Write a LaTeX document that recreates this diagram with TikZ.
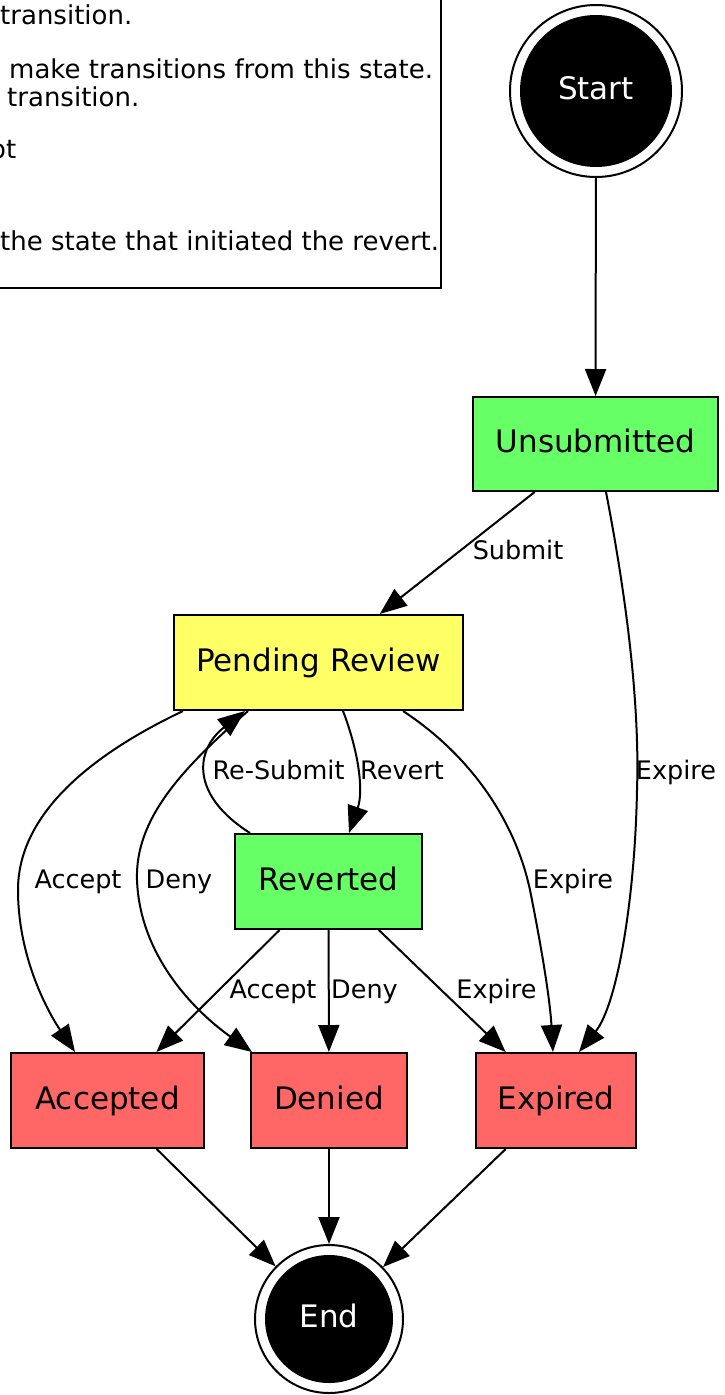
\documentclass[tikz,border=0pt]{standalone}
\usepackage{fontspec}
\setmainfont{DejaVu Sans}
\usetikzlibrary{arrows.meta,calc}
\definecolor{stgreen}{HTML}{66FF66}
\definecolor{styellow}{HTML}{FFFF66}
\definecolor{stred}{HTML}{FF6666}
\tikzset{
  statebox/.style={rectangle, draw=black, line width=2pt, inner sep=0pt,
    font=\fontsize{31}{37}\selectfont, text height=17pt, text depth=0pt},
  ring/.style={circle, draw=black, line width=2pt, inner sep=0pt},
  disk/.style={circle, fill=black, text=white, inner sep=0pt,
    font=\fontsize{31}{37}\selectfont, text height=17pt, text depth=0pt},
  conn/.style={line width=2pt, -{Triangle[length=27pt,width=21pt]}},
  elabel/.style={font=\fontsize{25.5}{30}\selectfont, inner sep=0pt, anchor=base},
  legtext/.style={font=\fontsize{26}{31}\selectfont, inner sep=0pt},
}
\begin{document}
\begin{tikzpicture}[x=1pt,y=-1pt]
\useasboundingbox (0,0) rectangle (725,1395);
\clip (0,0) rectangle (725,1395);
\fill[white] (0,0) rectangle (725,1395);

% legend box (partially visible)
\draw[line width=2pt] (-10,-10) rectangle (441,288);
\node[legtext, anchor=base west] (l1) at (0,24) {transition.};
\node[legtext, anchor=base west] (l2) at (9,78) {make transitions from this state.};
\node[legtext, anchor=base west] (l3) at (7,106) {transition.};
\node[legtext, anchor=base east] (l4) at (16.5,158) {ot};
\node[legtext, anchor=base west] (l5) at (0,250) {the state that initiated the revert.};

% start / end
\node[ring, minimum size=172pt] (startO) at (596,91) {};
\node[disk, minimum size=152pt] (start) at (596,91) {Start};
\node[ring, minimum size=148pt] (endO) at (329,1319) {};
\node[disk, minimum size=128pt] (end) at (329,1319) {End};

% states
\node[statebox, fill=stgreen, minimum width=245pt, minimum height=94pt] (unsub) at (595.5,444) {Unsubmitted};
\node[statebox, fill=styellow, minimum width=289pt, minimum height=95pt] (pending) at (318.5,662.5) {Pending Review};
\node[statebox, fill=stgreen, minimum width=187pt, minimum height=95pt] (reverted) at (328.5,881.5) {Reverted};
\node[statebox, fill=stred, minimum width=193pt, minimum height=95pt] (accepted) at (107.5,1100.5) {Accepted};
\node[statebox, fill=stred, minimum width=156pt, minimum height=95pt] (denied) at (329,1100.5) {Denied};
\node[statebox, fill=stred, minimum width=160pt, minimum height=95pt] (expired) at (556,1100.5) {Expired};

% connectors
\draw[conn] (startO) -- (unsub);
\draw[conn] (unsub) -- (pending);
\draw[conn] ([xshift=10.5pt]unsub.south) .. controls (625,590) and (640,700) .. (637,790)
   .. controls (635,900) and (617,1005) .. ([xshift=23pt]expired.north);
\draw[conn] ([xshift=24.5pt]pending.south) .. controls (358,750) and (364,790) .. ([xshift=20.5pt]reverted.north);
\draw[conn] ([xshift=-78.5pt]reverted.north) .. controls (190,795) and (195,750) .. ([xshift=-73.5pt]pending.south);
\draw[conn] ([xshift=-135.5pt]pending.south) .. controls (80,760) and (18,820) .. (18,890)
   .. controls (18,960) and (50,1015) .. ([xshift=-32.5pt]accepted.north);
\draw[conn] ([xshift=-70.5pt]pending.south) .. controls (180,770) and (135,820) .. (137,880)
   .. controls (140,960) and (200,1015) .. ([xshift=-77pt]denied.north);
\draw[conn] ([xshift=84.5pt]pending.south) .. controls (470,755) and (515,820) .. (530,890)
   .. controls (542,950) and (550,1000) .. ([xshift=-3pt]expired.north);
\draw[conn] (reverted) -- (accepted);
\draw[conn] (reverted) -- (denied);
\draw[conn] (reverted) -- (expired);
\draw[conn] (accepted) -- (endO);
\draw[conn] (denied) -- (endO);
\draw[conn] (expired) -- (endO);

% edge labels
\node[elabel] (lsubmit) at (518,559) {Submit};
\node[elabel] (lexp1) at (676,779) {Expire};
\node[elabel] (lrevert) at (402,779) {Revert};
\node[elabel] (lresub) at (278.5,779) {Re-Submit};
\node[elabel] (lacc1) at (78,888) {Accept};
\node[elabel] (ldeny1) at (179,888) {Deny};
\node[elabel] (lexp2) at (573,888) {Expire};
\node[elabel] (lacc2) at (273,998) {Accept};
\node[elabel] (ldeny2) at (364.5,998) {Deny};
\node[elabel] (lexp3) at (496.5,998) {Expire};
\end{tikzpicture}
\end{document}
